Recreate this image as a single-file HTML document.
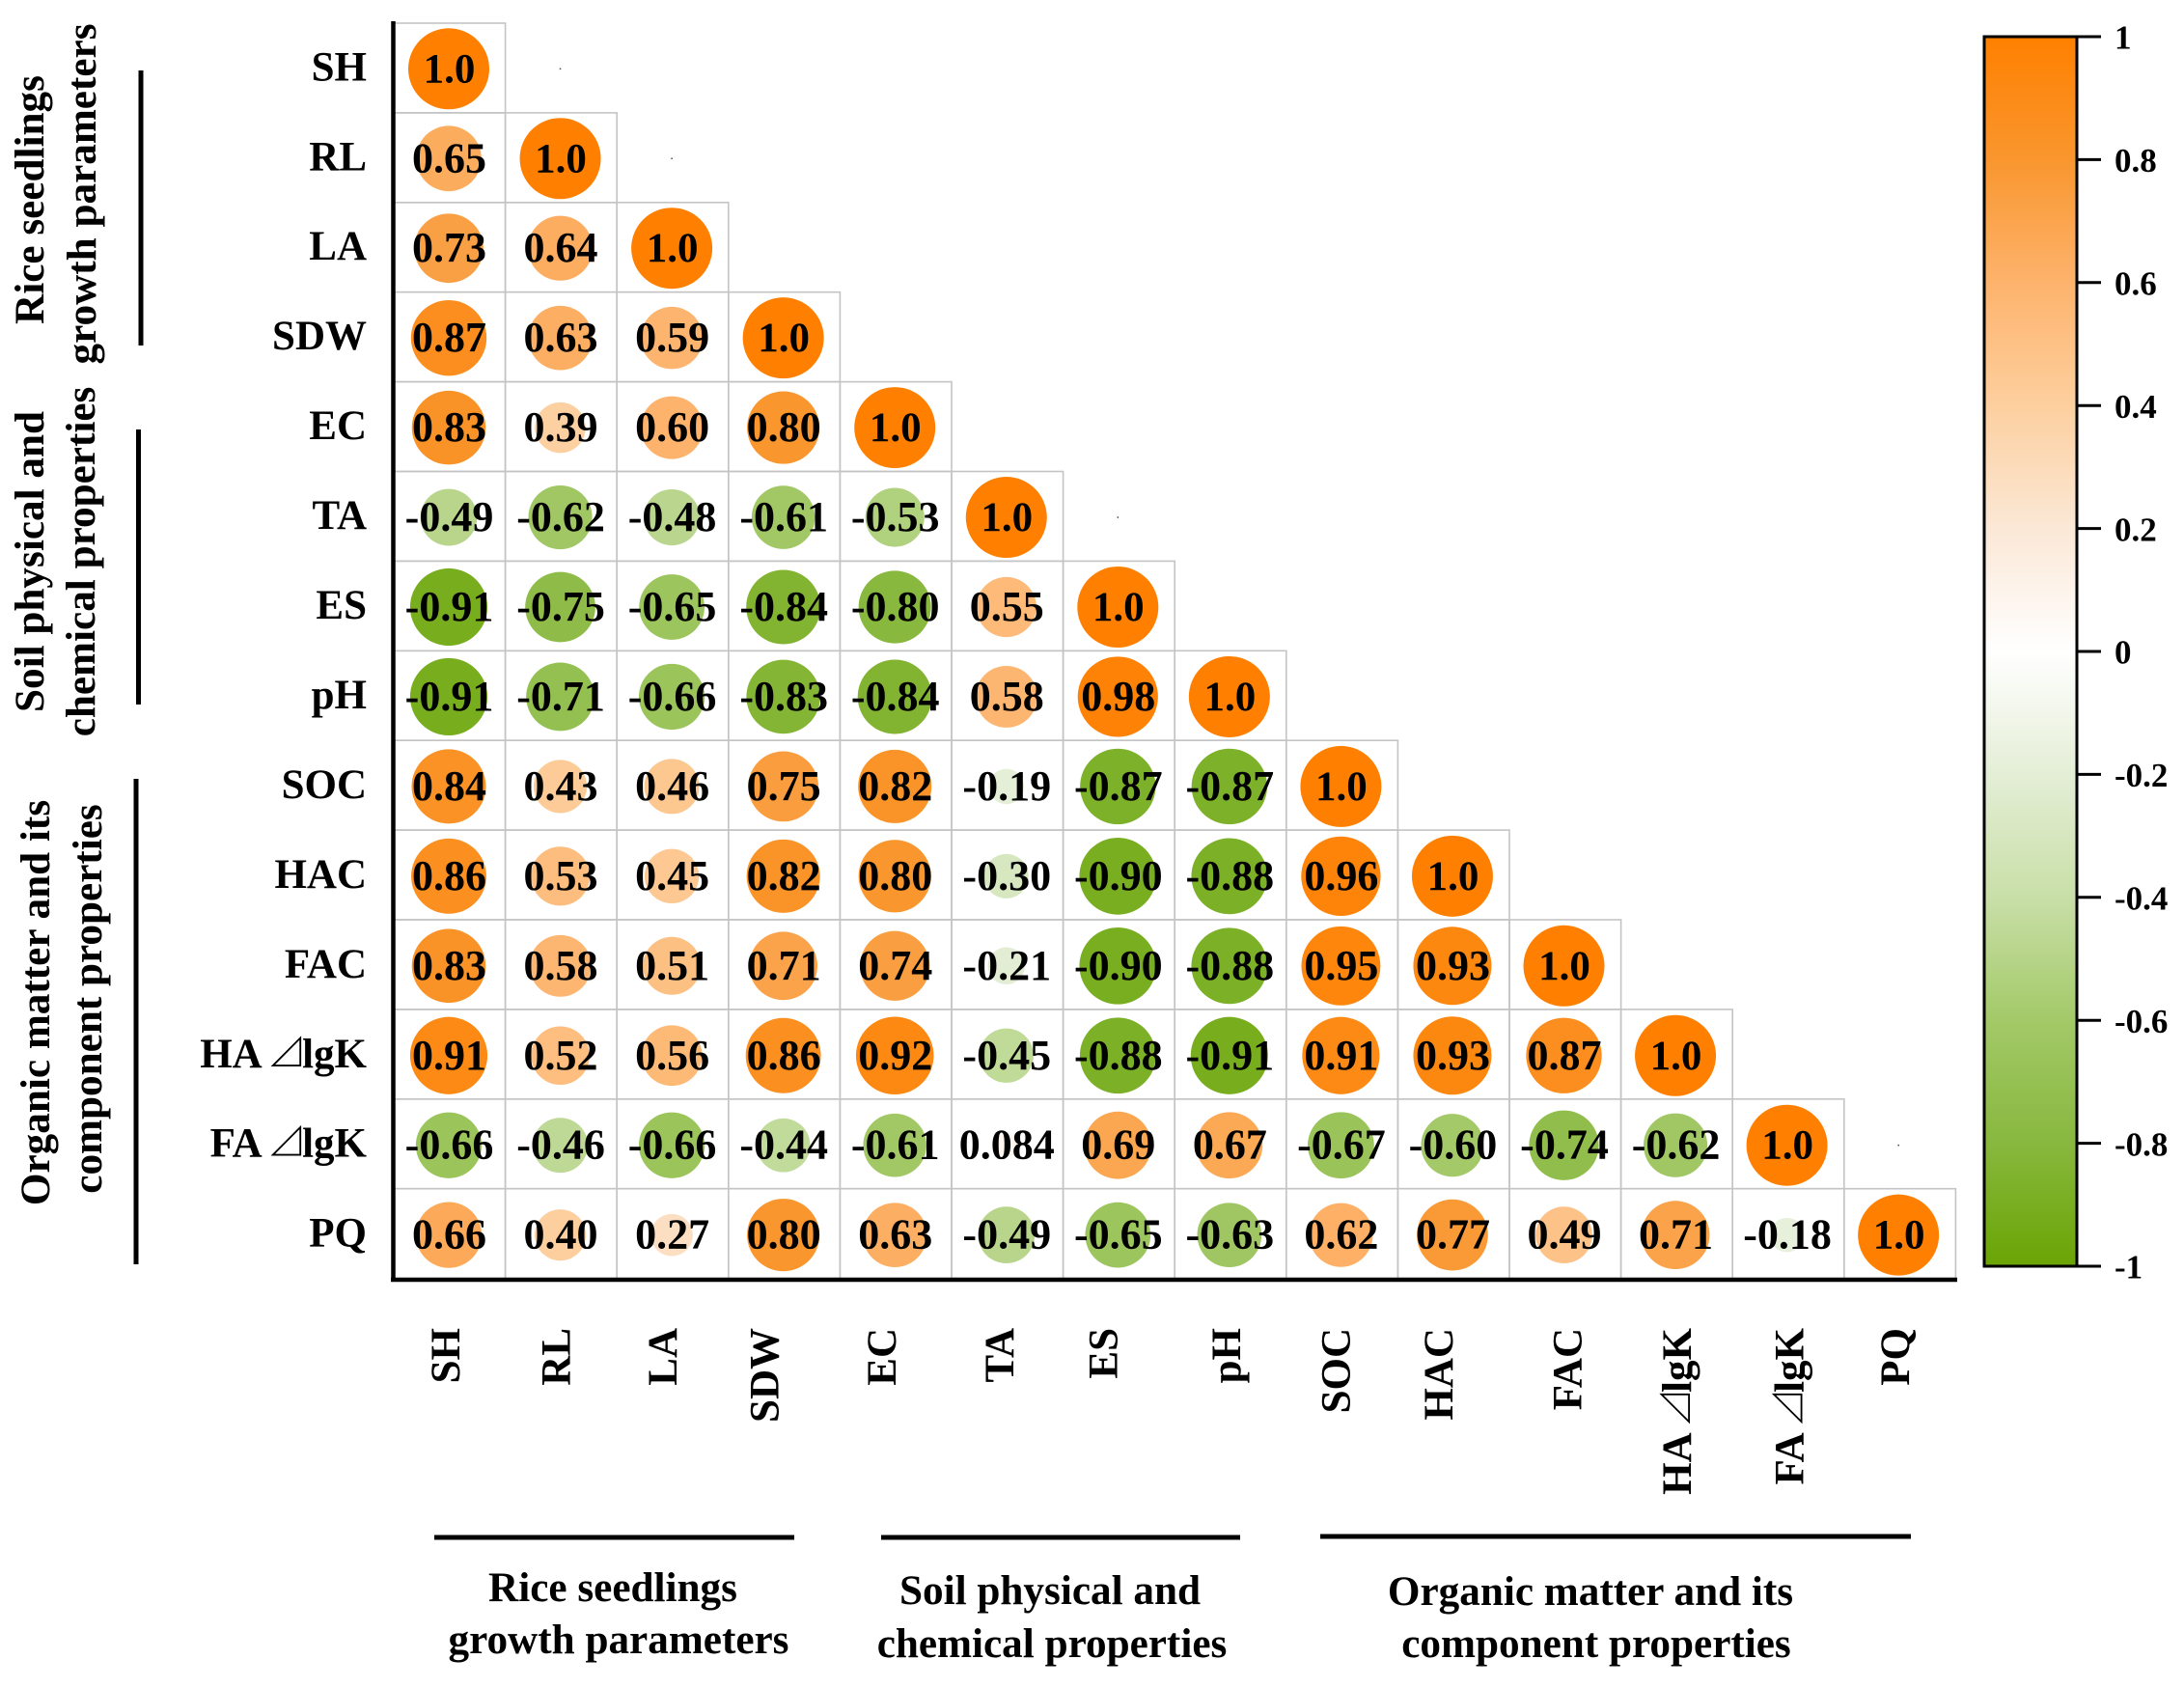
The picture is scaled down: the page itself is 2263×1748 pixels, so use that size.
<!DOCTYPE html>
<html lang="en">
<head>
<meta charset="utf-8">
<title>Correlation matrix of rice seedling and soil properties</title>
<style>
html,body{margin:0;padding:0;background:#fff;width:2263px;height:1748px;overflow:hidden}
svg{display:block}
text{font-family:"Liberation Serif","Noto Serif CJK SC",serif;font-weight:700;fill:#000}
</style>
</head>
<body>
<svg id="chart" xmlns="http://www.w3.org/2000/svg" width="2263" height="1748" viewBox="0 0 2263 1748">
  <rect width="2263" height="1748" fill="#fff"/>
  <defs><linearGradient id="scaleGrad" x1="0" y1="0" x2="0" y2="1"></linearGradient></defs>
  <g id="grid"></g>
  <g id="marks"></g>
  <g id="values"></g>
  <g id="axes"></g>
  <g id="colorbar"></g>

  <g font-size="43.2" text-anchor="middle">
    <text transform="translate(45 207) rotate(-90)">Rice seedlings</text>
    <text transform="translate(99 201) rotate(-90)">growth parameters</text>
    <text transform="translate(45 582) rotate(-90)">Soil physical and</text>
    <text transform="translate(98 582) rotate(-90)">chemical properties</text>
    <text transform="translate(51 1039) rotate(-90)">Organic matter and its</text>
    <text transform="translate(105 1035) rotate(-90)">component properties</text>
  </g>
  <g stroke="#000" stroke-width="5">
    <line x1="146" y1="73" x2="146" y2="358"/>
    <line x1="143.5" y1="445" x2="143.5" y2="730"/>
    <line x1="141" y1="807" x2="141" y2="1310"/>
  </g>
  <g stroke="#000" stroke-width="5">
    <line x1="450" y1="1593" x2="823" y2="1593"/>
    <line x1="913" y1="1593" x2="1285" y2="1593"/>
    <line x1="1368" y1="1592" x2="1980" y2="1592"/>
  </g>
  <g font-size="43.2" text-anchor="middle">
    <text x="635" y="1659">Rice seedlings</text>
    <text x="641" y="1713">growth parameters</text>
    <text x="1088" y="1662">Soil physical and</text>
    <text x="1090" y="1717">chemical properties</text>
    <text x="1648" y="1663">Organic matter and its</text>
    <text x="1654" y="1717">component properties</text>
  </g>
</svg>
<script>
const categories = ["SH","RL","LA","SDW","EC","TA","ES","pH","SOC","HAC","FAC","HA ⊿lgK","FA ⊿lgK","PQ"];
const rowSH  = [1];
const rowRL  = [0.65,1];
const rowLA  = [0.73,0.64,1];
const rowSDW = [0.87,0.63,0.59,1];
const rowEC  = [0.83,0.39,0.60,0.80,1];
const rowTA  = [-0.49,-0.62,-0.48,-0.61,-0.53,1];
const rowES  = [-0.91,-0.75,-0.65,-0.84,-0.80,0.55,1];
const rowPH  = [-0.91,-0.71,-0.66,-0.83,-0.84,0.58,0.98,1];
const rowSOC = [0.84,0.43,0.46,0.75,0.82,-0.19,-0.87,-0.87,1];
const rowHAC = [0.86,0.53,0.45,0.82,0.80,-0.30,-0.90,-0.88,0.96,1];
const rowFAC = [0.83,0.58,0.51,0.71,0.74,-0.21,-0.90,-0.88,0.95,0.93,1];
const rowHA  = [0.91,0.52,0.56,0.86,0.92,-0.45,-0.88,-0.91,0.91,0.93,0.87,1];
const rowFA  = [-0.66,-0.46,-0.66,-0.44,-0.61,0.084,0.69,0.67,-0.67,-0.60,-0.74,-0.62,1];
const rowPQ  = [0.66,0.40,0.27,0.80,0.63,-0.49,-0.65,-0.63,0.62,0.77,0.49,0.71,-0.18,1];
const matrix = [rowSH,rowRL,rowLA,rowSDW,rowEC,rowTA,rowES,rowPH,rowSOC,rowHAC,rowFAC,rowHA,rowFA,rowPQ];
const scaleTicks = [1,0.8,0.6,0.4,0.2,0,-0.2,-0.4,-0.6,-0.8,-1];
const scaleColors = ["#ff8000","#f9962e","#fdb36c","#fdcf9f","#fbe8d6","#ffffff","#e4eed6","#c9dfa8","#a3c968","#88b83e","#6aa404"];

const SVGNS = "http://www.w3.org/2000/svg";
const GRID_LEFT = 408, GRID_TOP = 24, CELL_W = 115.6, CELL_H = 92.9, MAX_R = 42;
const BAR_TOP = 38, BAR_BOTTOM = 1312, BAR_LEFT = 2056, BAR_RIGHT = 2152;
const xTickNudge = [-3,-4,-9,-19,-13,-7,-15,-3,-5,-14,4,2,3,-3];

function make(tag, attrs, parent, text) {
  const el = document.createElementNS(SVGNS, tag);
  for (const k in attrs) el.setAttribute(k, attrs[k]);
  if (text !== undefined) el.textContent = text;
  parent.appendChild(el);
  return el;
}
function xCenter(c) { return GRID_LEFT + 57 + c * 115.55; }
function yCenter(r) { return 71.3 + r * 92.95; }
function radius(v) { return MAX_R * Math.sqrt(Math.abs(v)); }
function scaleY(v) { return BAR_TOP + (1 - v) / 2 * (BAR_BOTTOM - BAR_TOP); }
function hexRGB(h) { return [1,3,5].map(i => parseInt(h.substr(i,2),16)); }
function colorFor(v) {
  const c = Math.max(-1, Math.min(1, v));
  for (let i = 0; i < scaleTicks.length - 1; i++) {
    if (c <= scaleTicks[i] && c >= scaleTicks[i+1]) {
      const t = (scaleTicks[i] - c) / (scaleTicks[i] - scaleTicks[i+1]);
      const a = hexRGB(scaleColors[i]), b = hexRGB(scaleColors[i+1]);
      return "rgb(" + a.map((x,k) => Math.round(x + (b[k]-x)*t)).join(",") + ")";
    }
  }
  return "#fff";
}
function fmt(v) {
  if (v === 1) return "1.0";
  if (Math.abs(v) < 0.1) return v.toFixed(3);
  return v.toFixed(2);
}
function addCategoryText(el, label) {
  const parts = label.split("⊿");
  if (parts.length === 1) { el.textContent = label; return; }
  const a = document.createElementNS(SVGNS, "tspan"); a.textContent = parts[0];
  const t = document.createElementNS(SVGNS, "tspan"); t.textContent = "⊿"; t.setAttribute("font-weight", "400"); t.setAttribute("font-size", "42"); t.setAttribute("dx", "-4");
  const b = document.createElementNS(SVGNS, "tspan"); b.textContent = parts[1]; b.setAttribute("dx", "-5");
  el.appendChild(a); el.appendChild(t); el.appendChild(b);
}

const gGrid = document.getElementById("grid");
const gMarks = document.getElementById("marks");
const gValues = document.getElementById("values");
const gAxes = document.getElementById("axes");
const gBar = document.getElementById("colorbar");

matrix.forEach(function (row, r) {
  row.forEach(function (v, c) {
    const cell = make("rect", {x: GRID_LEFT + c*CELL_W, y: GRID_TOP + r*CELL_H, width: CELL_W, height: CELL_H, fill: "none", stroke: "#c4c4c4", "stroke-width": 1.6}, gGrid);
    
    
    const dot = make("circle", {cx: xCenter(c), cy: yCenter(r), r: radius(v), fill: colorFor(v)}, gMarks);
    
    
    const label = make("text", {x: xCenter(c) + 0.5, y: yCenter(r) + 14, "font-size": v === 1 ? 43 : 44, "text-anchor": "middle"}, gValues, fmt(v));
    
    
  });
});

[0,1,5,12].forEach(function (r) {
  const speck = make("circle", {cx: xCenter(r+1), cy: yCenter(r), r: 0.9, fill: "#555"}, gMarks);
  
  
});

categories.forEach(function (name, i) {
  const yl = make("text", {x: 380, y: yCenter(i) + 12, "font-size": 43, "text-anchor": "end"}, gAxes);
  addCategoryText(yl, name);
  
  
  const bx = xCenter(i) + 14 + xTickNudge[i];
  const xl = make("text", {transform: "translate(" + bx + " 1376) rotate(-90)", "font-size": 43, "text-anchor": "end"}, gAxes);
  addCategoryText(xl, name);
  
  
});

const yAxis = make("line", {x1: 407.5, y1: 22, x2: 407.5, y2: 1328, stroke: "#000", "stroke-width": 4.5}, gAxes);


const xAxis = make("line", {x1: 405, y1: 1326, x2: 2028, y2: 1326, stroke: "#000", "stroke-width": 4.5}, gAxes);



const grad = document.getElementById("scaleGrad");
scaleTicks.forEach(function (t, i) {
  make("stop", {offset: (1 - t) / 2, "stop-color": scaleColors[i]}, grad);
});
const barRect = make("rect", {x: BAR_LEFT, y: BAR_TOP, width: BAR_RIGHT - BAR_LEFT, height: BAR_BOTTOM - BAR_TOP, fill: "url(#scaleGrad)", stroke: "#000", "stroke-width": 3}, gBar);


scaleTicks.forEach(function (t) {
  const y = scaleY(t);
  const tick = make("line", {x1: BAR_RIGHT, y1: y, x2: 2177, y2: y, stroke: "#000", "stroke-width": 3}, gBar);
  
  
  const lab = make("text", {x: 2191, y: y + 12.7, "font-size": 35}, gBar, String(t));
  
  
});
</script>
</body>
</html>
